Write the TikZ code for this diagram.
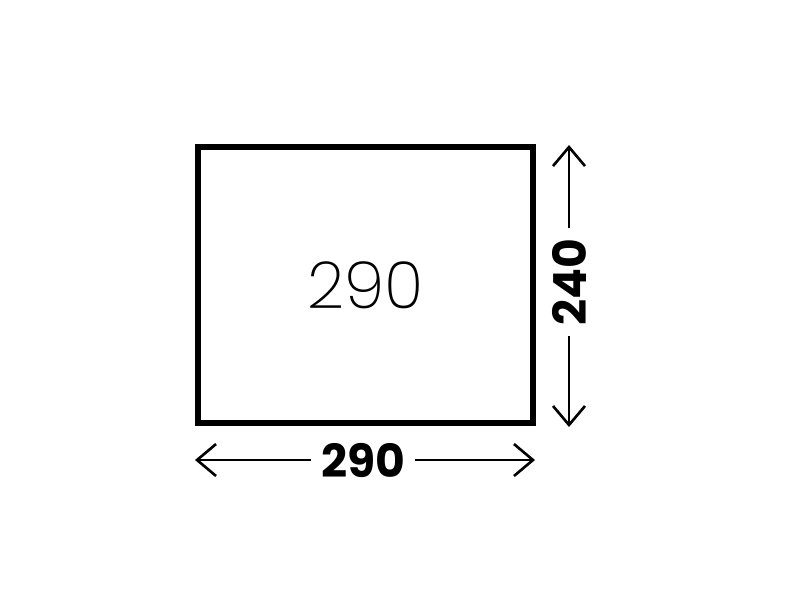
\documentclass[tikz,border=0pt]{standalone}
\usepackage{fontspec}
\setmainfont{Poppins}
\newfontfamily\thinfont{Poppins ExtraLight}
\usetikzlibrary{arrows.meta,positioning}

\begin{document}
\begin{tikzpicture}[x=0.02cm,y=-0.02cm,>={Straight Barb[length=0.38cm,width=0.64cm]}]

\useasboundingbox (0,0) rectangle (800,600);

\node [draw,line width=0.12cm,minimum width=6.71cm,minimum height=5.53cm,inner sep=0pt] at (365.75,285.25) (box) {};
\node [font=\thinfont\fontsize{37}{37}\selectfont] at (box) (area) {290};

\coordinate (wl) at (195,460);
\coordinate (wr) at (535,460);
\node [font=\bfseries\fontsize{26}{26}\selectfont,inner xsep=0.2cm] at (363,460) (wlab) {290};

\path[->,line width=1.5pt] (wlab) edge (wl);
\path[->,line width=1.5pt] (wlab) edge (wr);

\coordinate (ht) at (569,145);
\coordinate (hb) at (569,427);
\node [font=\bfseries\fontsize{26}{26}\selectfont,inner xsep=0.2cm,rotate=90] at (569,282) (hlab) {240};

\path[->,line width=1.5pt] (hlab) edge (ht);
\path[->,line width=1.5pt] (hlab) edge (hb);

\end{tikzpicture}
\end{document}
